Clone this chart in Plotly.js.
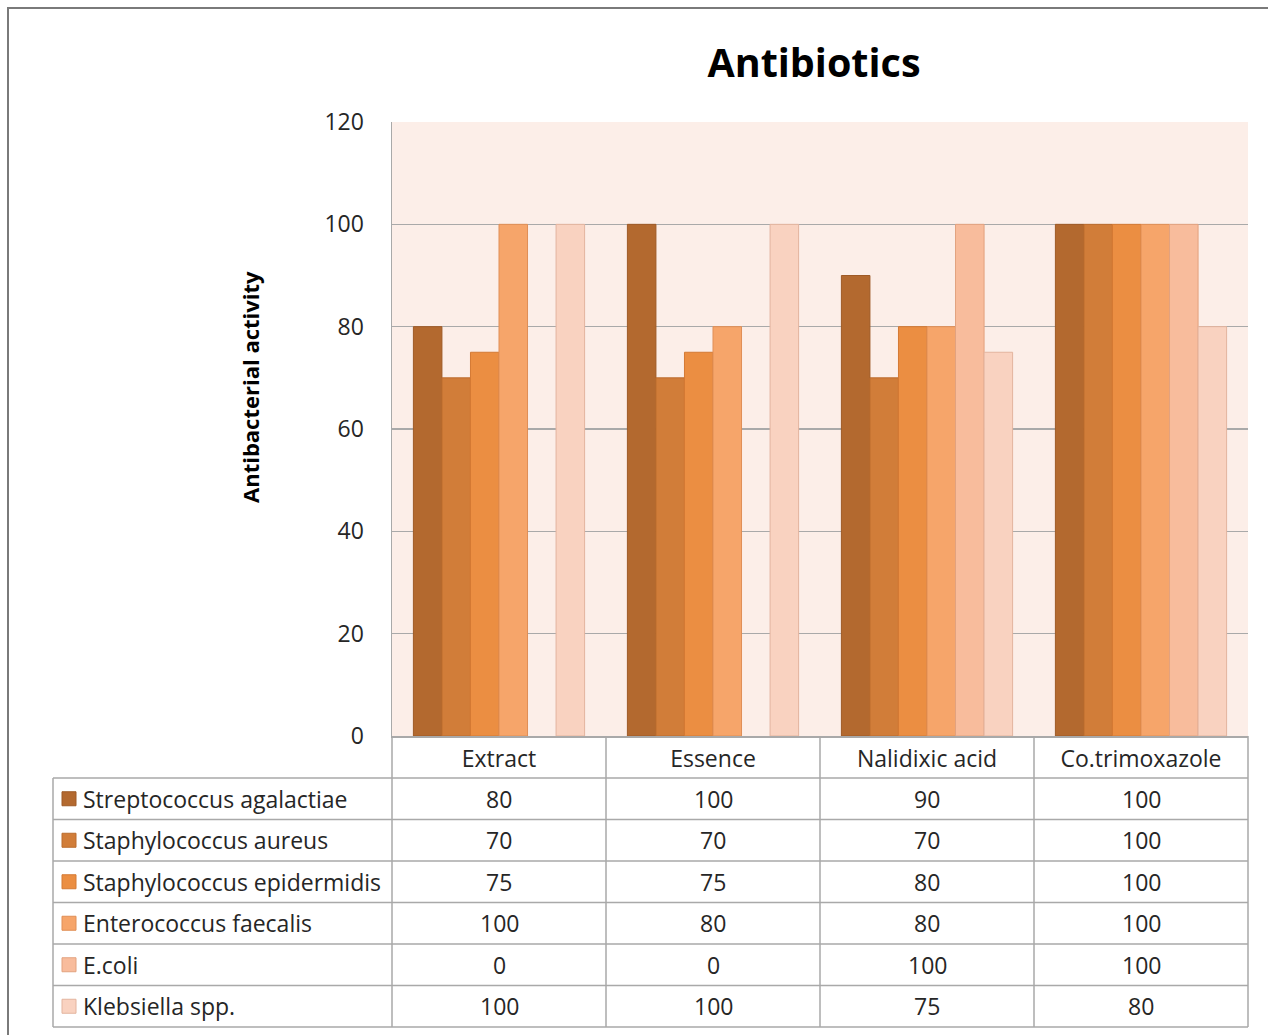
<!DOCTYPE html>
<html><head><meta charset="utf-8">
<script src="https://cdn.plot.ly/plotly-3.0.1.min.js"></script>
<style>body{margin:0;background:#fff}#chart{width:1268px;height:1035px}</style>
</head><body><div id="chart"></div>
<script>
const categories = ['Extract','Essence','Nalidixic acid','Co.trimoxazole'];
const seriesNames = ['Streptococcus agalactiae','Staphylococcus aureus','Staphylococcus epidermidis','Enterococcus faecalis','E.coli','Klebsiella spp.'];
const streptococcusAgalactiae = [80,100,90,100];
const staphylococcusAureus = [70,70,70,100];
const staphylococcusEpidermidis = [75,75,80,100];
const enterococcusFaecalis = [100,80,80,100];
const eColi = [0,0,100,100];
const klebsiellaSpp = [100,100,75,80];
const yTicks = [0,20,40,60,80,100,120];
const chartTitle = 'Antibiotics';
const yTitle = 'Antibacterial activity';

const seriesValues = [streptococcusAgalactiae, staphylococcusAureus, staphylococcusEpidermidis, enterococcusFaecalis, eColi, klebsiellaSpp];
const colors = ['#B3692F','#D17D39','#EB8E42','#F6A56A','#F8BC9C','#F9D2C0'];
const edges  = ['#9E5A26','#BB6C2E','#D47A34','#E08F56','#E2A27F','#E3B49E'];

const W=1268, H=1035, L=392, R=1248, T=122, B=736;
const fx = p => (p - L)/(R - L);
const fy = p => (B - p)/(B - T);
const FONT = '"Open Sans", "Noto Sans", sans-serif';
const TXT = '#262626';
const GRID = '#A9A9A9';
const FS = 23;
const tableTop = 778, rowH = (1027-778)/6, tableLeft = 53;

const traces = seriesNames.map((n,i)=>({
  type:'bar', name:n, x:categories, y:seriesValues[i],
  marker:{color:colors[i], line:{color:edges[i], width:seriesValues[i].map(v=>v>0?1:0)}},
  hoverinfo:'x+y+name'
}));

const shapes = [];
shapes.push({type:'rect', xref:'paper', yref:'paper', x0:fx(8), x1:fx(1290), y0:fy(8), y1:fy(1060), line:{color:'#7a7a7a', width:2}, layer:'below'});
for(let i=0;i<=6;i++){
  const y = tableTop + i*rowH;
  shapes.push({type:'line', xref:'paper', yref:'paper', x0:fx(tableLeft), x1:1, y0:fy(y), y1:fy(y), line:{color:GRID, width:1.5}});
}
shapes.push({type:'line', xref:'paper', yref:'paper', x0:fx(tableLeft), x1:fx(tableLeft), y0:fy(tableTop), y1:fy(1027), line:{color:GRID, width:1.5}});
for(let k=0;k<=categories.length;k++){
  const x = k/categories.length;
  shapes.push({type:'line', xref:'paper', yref:'paper', x0:x, x1:x, y0:0, y1:fy(1027), line:{color:GRID, width:1.5}});
}
seriesNames.forEach((n,i)=>{
  const cy = tableTop + (i+0.5)*rowH;
  shapes.push({type:'rect', xref:'paper', yref:'paper', x0:fx(62), x1:fx(76), y0:fy(cy-7), y1:fy(cy+7), fillcolor:colors[i], line:{color:edges[i], width:1}});
});

const annotations = [];
seriesNames.forEach((n,i)=>{
  const cy = tableTop + (i+0.5)*rowH;
  annotations.push({xref:'paper', yref:'paper', x:fx(81), y:fy(cy), xanchor:'left', yanchor:'middle', text:n, showarrow:false, font:{family:FONT, size:FS, color:TXT}});
  categories.forEach((c,j)=>{
    annotations.push({xref:'x', yref:'paper', x:c, y:fy(cy), xanchor:'center', yanchor:'middle', text:String(seriesValues[i][j]), showarrow:false, font:{family:FONT, size:FS, color:TXT}});
  });
});
annotations.push({xref:'paper', yref:'paper', x:fx(250), y:fy(387), textangle:-90, xanchor:'center', yanchor:'middle', text:'<b>'+yTitle+'</b>', showarrow:false, font:{family:FONT, size:22, color:'#000'}});

const layout = {
  width:W, height:H,
  margin:{l:L, r:W-R, t:T, b:H-B, pad:0},
  paper_bgcolor:'#ffffff', plot_bgcolor:'#FCEEE8',
  title:{text:'<b>'+chartTitle+'</b>', x:fx(814), xref:'paper', xanchor:'center', y:1-63/H, yref:'container', yanchor:'middle', font:{family:FONT, size:39.5, color:'#000'}},
  showlegend:false,
  barmode:'group', bargap:0.2, bargroupgap:0,
  xaxis:{type:'category', showline:true, linecolor:GRID, linewidth:1.5, ticks:'', ticklabelstandoff:2, tickfont:{family:FONT, size:FS, color:TXT}, showgrid:false, zeroline:false, fixedrange:true},
  yaxis:{range:[0,120], tickvals:yTicks, ticktext:yTicks.map(String), showline:true, linecolor:GRID, linewidth:1.5, gridcolor:GRID, gridwidth:1.5, ticks:'', ticklabelstandoff:22, tickfont:{family:FONT, size:FS, color:TXT}, zeroline:false, fixedrange:true},
  shapes, annotations
};
Plotly.newPlot('chart', traces, layout, {displayModeBar:false, staticPlot:true});
</script></body></html>
